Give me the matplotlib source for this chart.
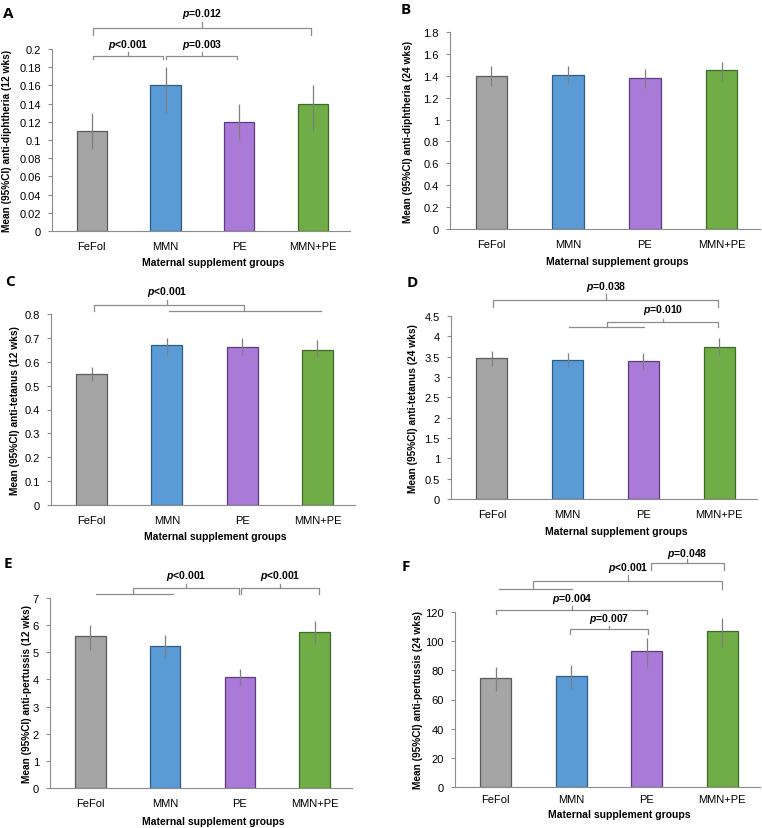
import matplotlib.pyplot as plt
import matplotlib.transforms as mtransforms
from matplotlib.ticker import FuncFormatter

plt.rcParams['font.family'] = ['Liberation Sans', 'DejaVu Sans']
plt.rcParams['mathtext.fontset'] = 'custom'
plt.rcParams['mathtext.it'] = 'Liberation Sans:bold:italic'
plt.rcParams['mathtext.rm'] = 'Liberation Sans:bold'

groups = ['FeFol', 'MMN', 'PE', 'MMN+PE']
bar_colors = ['#A5A5A5', '#5B9BD5', '#A97AD7', '#70AD47']
edge_colors = ['#5A5A5A', '#2E5C86', '#5C3B80', '#3D6A26']

# panel A: anti-diphtheria 12 wks
dip12_mean = [0.11, 0.16, 0.12, 0.14]
dip12_lo = [0.09, 0.13, 0.10, 0.11]
dip12_hi = [0.13, 0.18, 0.14, 0.16]
# panel B: anti-diphtheria 24 wks
dip24_mean = [1.40, 1.41, 1.38, 1.45]
dip24_lo = [1.31, 1.33, 1.29, 1.35]
dip24_hi = [1.49, 1.49, 1.46, 1.53]
# panel C: anti-tetanus 12 wks
tet12_mean = [0.55, 0.67, 0.66, 0.65]
tet12_lo = [0.52, 0.63, 0.63, 0.62]
tet12_hi = [0.58, 0.70, 0.70, 0.69]
# panel D: anti-tetanus 24 wks
tet24_mean = [3.47, 3.42, 3.39, 3.75]
tet24_lo = [3.28, 3.25, 3.18, 3.55]
tet24_hi = [3.65, 3.58, 3.58, 3.95]
# panel E: anti-pertussis 12 wks
per12_mean = [5.60, 5.25, 4.10, 5.75]
per12_lo = [5.10, 4.80, 3.78, 5.32]
per12_hi = [6.00, 5.65, 4.40, 6.15]
# panel F: anti-pertussis 24 wks
per24_mean = [75, 76, 93, 107]
per24_lo = [66, 67, 82, 96]
per24_hi = [82, 84, 102, 116]

W, H = 762, 829
fig = plt.figure(figsize=(W / 100, H / 100), dpi=100)


def px_axes(left, right, top, bottom):
    return fig.add_axes([left / W, 1 - bottom / H, (right - left) / W, (bottom - top) / H])


LINE = '#8C8C8C'


def bracket(ax, x1, x2, y, e1, e2, xt, yt, label, ytext):
    tr = mtransforms.blended_transform_factory(ax.transData, ax.transAxes)
    ax.plot([x1, x1, x2, x2], [e1, y, y, e2], color=LINE, lw=0.9,
            transform=tr, clip_on=False)
    ax.plot([xt, xt], [y, yt], color=LINE, lw=0.9, transform=tr, clip_on=False)
    ax.text(xt, ytext, label, transform=tr, ha='center', va='center',
            fontsize=7.5, fontweight='bold')


def hline(ax, x1, x2, y):
    tr = mtransforms.blended_transform_factory(ax.transData, ax.transAxes)
    ax.plot([x1, x2], [y, y], color=LINE, lw=0.9, transform=tr, clip_on=False)


def panel(box, mean, lo, hi, ymax, step, ylabel, letter, letter_xy, ylab_x,
          xlab_off, xpad=7):
    ax = px_axes(*box)
    x = range(len(groups))
    yerr = [[m - l for m, l in zip(mean, lo)], [h - m for m, h in zip(mean, hi)]]
    ax.bar(x, mean, width=0.41, color=bar_colors, edgecolor=edge_colors,
           linewidth=0.9, zorder=2)
    ax.errorbar(x, mean, yerr=yerr, fmt='none', ecolor='#7F7F7F',
                elinewidth=0.9, capsize=0, zorder=3)
    ax.set_xlim(-0.54, 3.5)
    ax.set_ylim(0, ymax)
    n = int(round(ymax / step))
    ax.set_yticks([i * step for i in range(n + 1)])
    ax.yaxis.set_major_formatter(FuncFormatter(lambda v, p: '%g' % round(v, 4)))
    ax.set_xticks(list(x))
    ax.set_xticklabels(groups)
    for s in ['top', 'right']:
        ax.spines[s].set_visible(False)
    for s in ['left', 'bottom']:
        ax.spines[s].set_color('#8C8C8C')
        ax.spines[s].set_linewidth(0.8)
    ax.tick_params(axis='y', length=3, width=0.8, color='#8C8C8C', labelsize=8, pad=5)
    ax.tick_params(axis='x', length=0, labelsize=8, pad=xpad)
    ax.set_ylabel(ylabel, fontsize=7.3, fontweight='bold')
    left, right, top, bottom = box
    # label anchor is the text's right edge, i.e. centre + ~5 px
    ax.yaxis.set_label_coords((ylab_x + 5 - left) / (right - left), 0.5)
    ax.set_xlabel('Maternal supplement groups', fontsize=7.5, fontweight='bold')
    ax.xaxis.set_label_coords(0.54, -(xlab_off - 5) / (bottom - top))
    fig.text(letter_xy[0] / W, 1 - letter_xy[1] / H, letter, fontsize=11,
             fontweight='bold', family='Open Sans', ha='center', va='center')
    return ax


axA = panel((52, 350, 50, 232), dip12_mean, dip12_lo, dip12_hi, 0.2, 0.02,
            'Mean (95%CI) anti-diphtheria (12 wks)', 'A', (8, 14), 7, 31)
bracket(axA, 0.02, 2.97, 1.115, 1.077, 1.077, 1.49, 1.148, '$p$=0.012', 1.198)
bracket(axA, 0.02, 0.965, 0.962, 0.945, 0.945, 0.49, 0.984, '$p$<0.001', 1.03)
bracket(axA, 1.005, 1.97, 0.962, 0.945, 0.945, 1.49, 0.984, '$p$=0.003', 1.03)

axB = panel((450, 760, 33, 230), dip24_mean, dip24_lo, dip24_hi, 1.8, 0.2,
            'Mean (95%CI) anti-diphtheria (24 wks)', 'B', (406, 10), 408, 32)

axC = panel((51, 355, 315, 506), tet12_mean, tet12_lo, tet12_hi, 0.8, 0.1,
            'Mean (95%CI) anti-tetanus (12 wks)', 'C', (10, 282), 15, 31)
hline(axC, 1.03, 3.05, 1.016)
bracket(axC, 0.03, 2.03, 1.047, 1.016, 1.016, 1.0, 1.073, '$p$<0.001', 1.12)

axD = panel((451, 757, 317, 500), tet24_mean, tet24_lo, tet24_hi, 4.5, 0.5,
            'Mean (95%CI) anti-tetanus (24 wks)', 'D', (412, 283), 413, 32)
bracket(axD, 0.01, 2.99, 1.087, 1.049, 1.049, 1.51, 1.12, '$p$=0.038', 1.164)
hline(axD, 1.02, 2.01, 0.94)
bracket(axD, 1.52, 2.99, 0.967, 0.94, 0.94, 2.26, 0.984, '$p$=0.010', 1.038)

axE = panel((50, 352, 599, 789), per12_mean, per12_lo, per12_hi, 7, 1,
            'Mean (95%CI) anti-pertussis (12 wks)', 'E', (8, 564), 27, 33)
hline(axE, 0.07, 1.10, 1.021)
bracket(axE, 0.57, 1.99, 1.053, 1.021, 1.021, 1.28, 1.074, '$p$<0.001', 1.12)
bracket(axE, 2.01, 3.06, 1.053, 1.021, 1.021, 2.54, 1.074, '$p$<0.001', 1.12)

axF = panel((455, 760, 613, 788), per24_mean, per24_lo, per24_hi, 120, 20,
            'Mean (95%CI) anti-pertussis (24 wks)', 'F', (406, 567), 418, 27, xpad=5)
hline(axF, 0.04, 1.01, 1.131)
bracket(axF, 0.49, 3.0, 1.177, 1.131, 1.131, 1.75, 1.211, '$p$<0.001', 1.257)
bracket(axF, 2.06, 3.02, 1.28, 1.24, 1.24, 2.53, 1.303, '$p$=0.048', 1.337)
bracket(axF, 0.0, 2.0, 1.011, 0.989, 0.989, 1.01, 1.034, '$p$=0.004', 1.08)
bracket(axF, 0.98, 2.02, 0.903, 0.874, 0.874, 1.5, 0.92, '$p$=0.007', 0.966)

fig.savefig('out.png', dpi=100, facecolor='white')
